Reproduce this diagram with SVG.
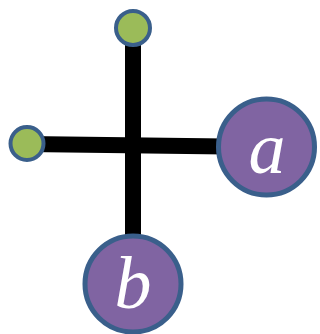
<svg xmlns="http://www.w3.org/2000/svg" width="320" height="334" viewBox="0 0 320 334">
<style>
.edge{stroke:#000;stroke-width:16;fill:none}
.big{fill:#8064A2;stroke:#3A5F8B;stroke-width:5}
.small{fill:#9BBB59;stroke:#3A5F8B;stroke-width:4}
.lbl{font-family:"Liberation Serif",serif;font-style:italic;font-size:74px;fill:#fff;text-anchor:middle}
</style>
<rect width="320" height="334" fill="#fff"/>
<g id="connectors">
<line class="edge" x1="133" y1="28" x2="133" y2="284"/>
<line class="edge" x1="27" y1="144" x2="266" y2="147"/>
</g>
<g id="top"><circle class="small" cx="133" cy="28" r="17"/></g>
<g id="left"><circle class="small" cx="27" cy="143.5" r="16.5"/></g>
<g id="a"><circle class="big" cx="266.5" cy="147" r="48"/><text class="lbl" x="267" y="173">a</text></g>
<g id="b"><circle class="big" cx="133" cy="284" r="48"/><text class="lbl" x="133" y="308">b</text></g>
</svg>
